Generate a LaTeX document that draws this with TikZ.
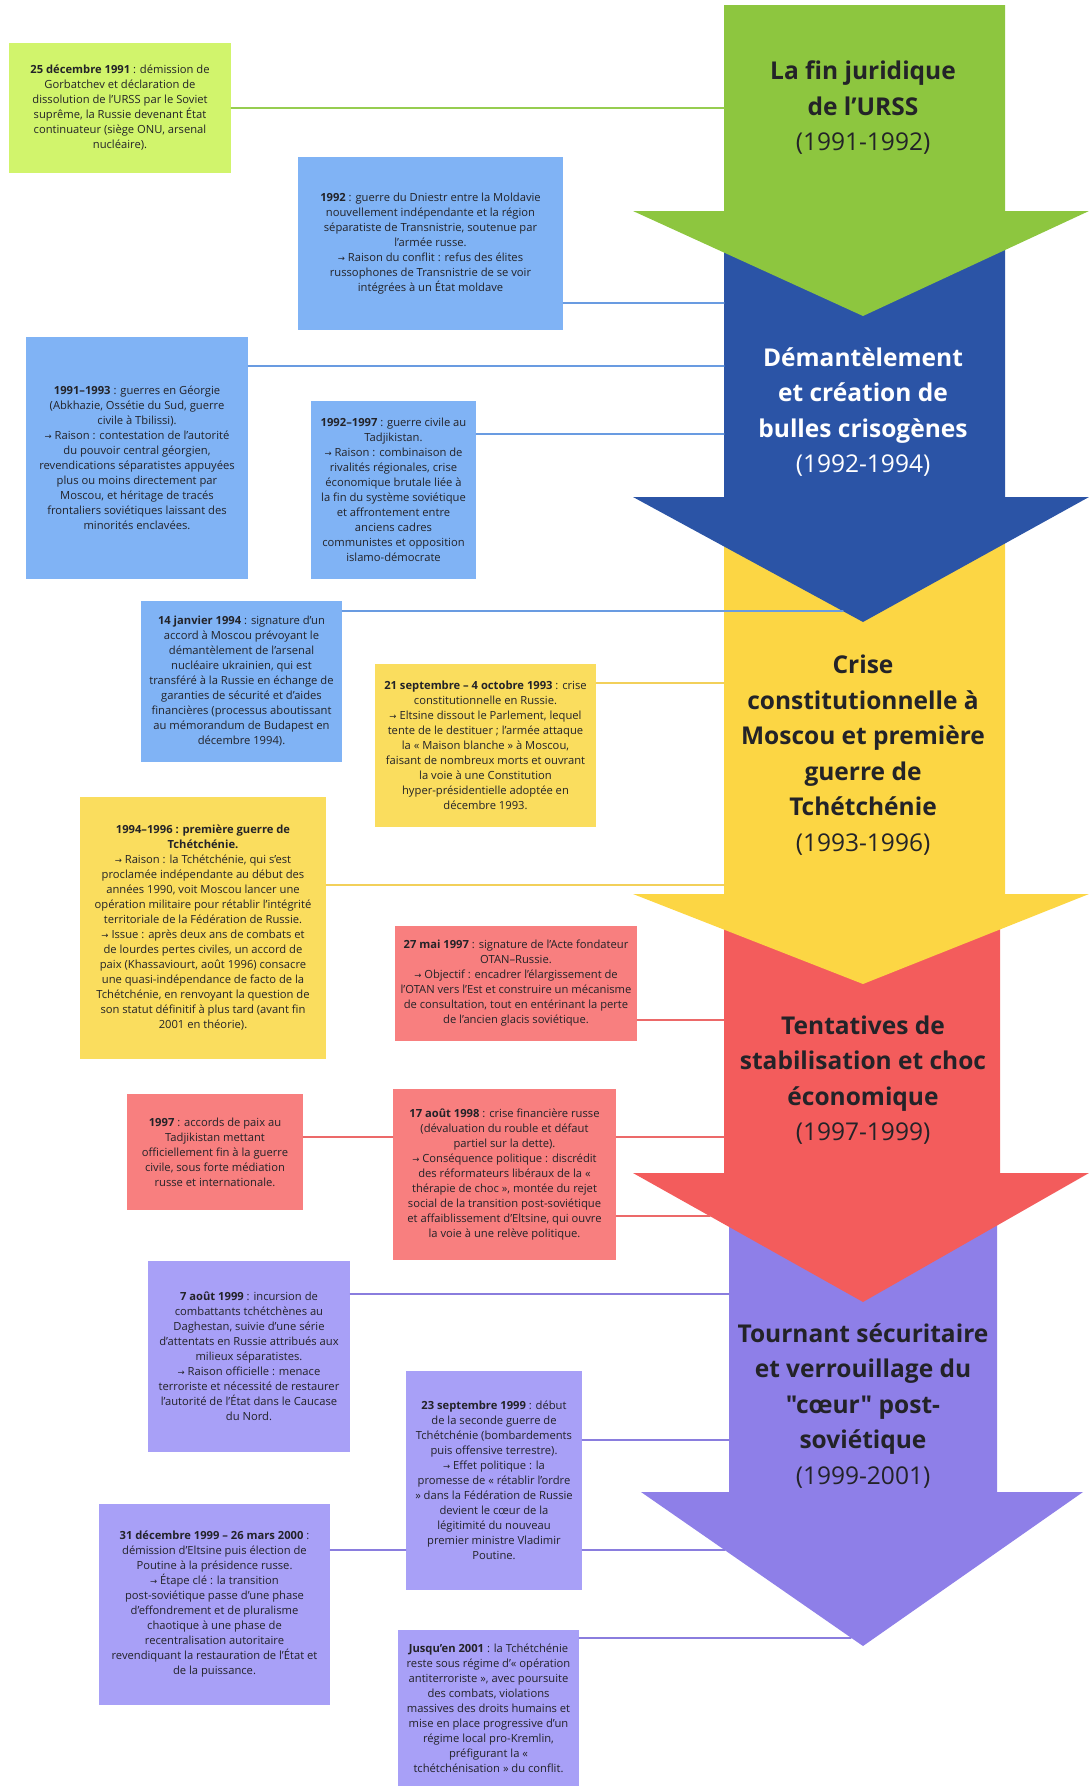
\documentclass[tikz,border=0pt]{standalone}
\usepackage{fontspec}
\setmainfont{Open Sans}[Ligatures=TeXOff]
\newfontfamily\flechefont{DejaVu Sans}
\newcommand\fl{{\flechefont\fontsize{8.5}{8.5}\selectfont →}}
\definecolor{fVert}{RGB}{141,198,63}
\definecolor{fBleu}{RGB}{43,84,166}
\definecolor{fJaune}{RGB}{252,214,68}
\definecolor{fRouge}{RGB}{243,92,92}
\definecolor{fViolet}{RGB}{142,127,232}
\definecolor{bVert}{RGB}{209,244,108}
\definecolor{bBleu}{RGB}{128,179,245}
\definecolor{bJaune}{RGB}{250,221,94}
\definecolor{bRouge}{RGB}{248,127,127}
\definecolor{bViolet}{RGB}{168,160,247}
\definecolor{lVert}{RGB}{150,205,80}
\definecolor{lBleu}{RGB}{105,155,225}
\definecolor{lJaune}{RGB}{242,208,90}
\definecolor{lRouge}{RGB}{236,105,105}
\definecolor{lViolet}{RGB}{138,125,222}
\definecolor{texte}{RGB}{35,35,40}
\begin{document}
\begin{tikzpicture}[x=1pt,y=-1pt,line join=round,line cap=round]
\tikzset{every node/.style={align=center,text=texte,inner sep=0pt,font=\fontsize{11.2}{15}\selectfont},
  boite/.style n args={3}{fill=#1,minimum width=#2,minimum height=#3},
  titre/.style={font=\fontsize{24.5}{35.5}\selectfont\bfseries},
  lien/.style={draw=#1,line width=1.2pt}}
\useasboundingbox (0,0) rectangle (1089,1786);
\foreach \col/\haut/\aile/\pointe/\g/\d/\ag/\ad in {fViolet/1173/1492/1646/729/997/641/1083,
  fRouge/894/1173/1302/724/1000/633/1089, fJaune/497/894/984/724/1005/633/1089,
  fBleu/211/497/622/724/1005/633/1089, fVert/5/211/316/724/1005/633/1089}
  \fill[\col] (\g,\haut) -- (\g,\aile) -- (\ag,\aile) -- (863,\pointe) -- (\ad,\aile) -- (\d,\aile) -- (\d,\haut) -- cycle;
\node[titre] (t1) at (863,108) {La fin juridique\\ de l’URSS\\ {\mdseries (1991-1992)}};
\node[titre,text=white] (t2) at (863,412) {Démantèlement\\ et création de\\ bulles crisogènes\\ {\mdseries (1992-1994)}};
\node[titre] (t3) at (863,755) {Crise\\ constitutionnelle à\\ Moscou et première\\ guerre de\\ Tchétchénie\\ {\mdseries (1993-1996)}};
\node[titre] (t4) at (863,1080) {Tentatives de\\ stabilisation et choc\\ économique\\ {\mdseries (1997-1999)}};
\node[titre] (t5) at (863,1406) {Tournant sécuritaire\\ et verrouillage du\\ "cœur" post-\\ soviétique\\ {\mdseries (1999-2001)}};
\node[boite={bVert}{222}{130}] (b1) at (120,108) {\textbf{25 décembre 1991} : démission de\\ Gorbatchev et déclaration de\\ dissolution de l’URSS par le Soviet\\ suprême, la Russie devenant État\\ continuateur (siège ONU, arsenal\\ nucléaire).};
\node[boite={bBleu}{265}{173}] (b2) at (430.5,243.5) {\textbf{1992} : guerre du Dniestr entre la Moldavie\\ nouvellement indépendante et la région\\ séparatiste de Transnistrie, soutenue par\\ l’armée russe.\\ \fl\ Raison du conflit : refus des élites\\ russophones de Transnistrie de se voir\\ intégrées à un État moldave};
\node[boite={bBleu}{222}{242}] (b3) at (137,458) {\textbf{1991–1993} : guerres en Géorgie\\ (Abkhazie, Ossétie du Sud, guerre\\ civile à Tbilissi).\\ \fl\ Raison : contestation de l’autorité\\ du pouvoir central géorgien,\\ revendications séparatistes appuyées\\ plus ou moins directement par\\ Moscou, et héritage de tracés\\ frontaliers soviétiques laissant des\\ minorités enclavées.};
\node[boite={bBleu}{165}{178}] (b4) at (393.5,490) {\textbf{1992–1997} : guerre civile au\\ Tadjikistan.\\ \fl\ Raison : combinaison de\\ rivalités régionales, crise\\ économique brutale liée à\\ la fin du système soviétique\\ et affrontement entre\\ anciens cadres\\ communistes et opposition\\ islamo-démocrate};
\node[boite={bBleu}{201}{161}] (b5) at (241.5,681.5) {\textbf{14 janvier 1994} : signature d’un\\ accord à Moscou prévoyant le\\ démantèlement de l’arsenal\\ nucléaire ukrainien, qui est\\ transféré à la Russie en échange de\\ garanties de sécurité et d’aides\\ financières (processus aboutissant\\ au mémorandum de Budapest en\\ décembre 1994).};
\node[boite={bJaune}{221}{163}] (b6) at (485.5,745.5) {\textbf{21 septembre – 4 octobre 1993} : crise\\ constitutionnelle en Russie.\\ \fl\ Eltsine dissout le Parlement, lequel\\ tente de le destituer ; l’armée attaque\\ la « Maison blanche » à Moscou,\\ faisant de nombreux morts et ouvrant\\ la voie à une Constitution\\ hyper-présidentielle adoptée en\\ décembre 1993.};
\node[boite={bJaune}{246}{262}] (b7) at (203,928) {\textbf{1994–1996 : première guerre de}\\ \textbf{Tchétchénie.}\\ \fl\ Raison : la Tchétchénie, qui s’est\\ proclamée indépendante au début des\\ années 1990, voit Moscou lancer une\\ opération militaire pour rétablir l’intégrité\\ territoriale de la Fédération de Russie.\\ \fl\ Issue : après deux ans de combats et\\ de lourdes pertes civiles, un accord de\\ paix (Khassaviourt, août 1996) consacre\\ une quasi-indépendance de facto de la\\ Tchétchénie, en renvoyant la question de\\ son statut définitif à plus tard (avant fin\\ 2001 en théorie).};
\node[boite={bRouge}{242}{115}] (b8) at (516,983.5) {\textbf{27 mai 1997} : signature de l’Acte fondateur\\ OTAN–Russie.\\ \fl\ Objectif : encadrer l’élargissement de\\ l’OTAN vers l’Est et construire un mécanisme\\ de consultation, tout en entérinant la perte\\ de l’ancien glacis soviétique.};
\node[boite={bRouge}{176}{116}] (b9) at (215,1152) {\textbf{1997} : accords de paix au\\ Tadjikistan mettant\\ officiellement fin à la guerre\\ civile, sous forte médiation\\ russe et internationale.};
\node[boite={bRouge}{223}{171}] (b10) at (504.5,1174.5) {\textbf{17 août 1998} : crise financière russe\\ (dévaluation du rouble et défaut\\ partiel sur la dette).\\ \fl\ Conséquence politique : discrédit\\ des réformateurs libéraux de la «\\ thérapie de choc », montée du rejet\\ social de la transition post-soviétique\\ et affaiblissement d’Eltsine, qui ouvre\\ la voie à une relève politique.};
\node[boite={bViolet}{202}{191}] (b11) at (249,1356.5) {\textbf{7 août 1999} : incursion de\\ combattants tchétchènes au\\ Daghestan, suivie d’une série\\ d’attentats en Russie attribués aux\\ milieux séparatistes.\\ \fl\ Raison officielle : menace\\ terroriste et nécessité de restaurer\\ l’autorité de l’État dans le Caucase\\ du Nord.};
\node[boite={bViolet}{176}{219}] (b12) at (494,1480.5) {\textbf{23 septembre 1999} : début\\ de la seconde guerre de\\ Tchétchénie (bombardements\\ puis offensive terrestre).\\ \fl\ Effet politique : la\\ promesse de « rétablir l’ordre\\ » dans la Fédération de Russie\\ devient le cœur de la\\ légitimité du nouveau\\ premier ministre Vladimir\\ Poutine.};
\node[boite={bViolet}{231}{201}] (b13) at (214.5,1604.5) {\textbf{31 décembre 1999 – 26 mars 2000} :\\ démission d’Eltsine puis élection de\\ Poutine à la présidence russe.\\ \fl\ Étape clé : la transition\\ post-soviétique passe d’une phase\\ d’effondrement et de pluralisme\\ chaotique à une phase de\\ recentralisation autoritaire\\ revendiquant la restauration de l’État et\\ de la puissance.};
\node[boite={bViolet}{181}{156}] (b14) at (488.5,1708) {\textbf{Jusqu’en 2001} : la Tchétchénie\\ reste sous régime d’« opération\\ antiterroriste », avec poursuite\\ des combats, violations\\ massives des droits humains et\\ mise en place progressive d’un\\ régime local pro-Kremlin,\\ préfigurant la «\\ tchétchénisation » du conflit.};
\coordinate (c1) at (724,108);
\coordinate (c2) at (724,303);
\coordinate (c3) at (724,366);
\coordinate (c4) at (724,434);
\coordinate (c5) at (843,611);
\coordinate (c6) at (724,683);
\coordinate (c7) at (724,885);
\coordinate (c8) at (724,1020);
\coordinate (c9) at (724,1137);
\coordinate (c10) at (710,1216);
\coordinate (c11) at (729,1294);
\coordinate (c12) at (729,1440);
\coordinate (c13) at (725,1550);
\coordinate (c14) at (851,1638);
\draw[lien=lVert] (c1 -| b1.east) -- (c1);
\draw[lien=lBleu] (c2 -| b2.east) -- (c2);
\draw[lien=lBleu] (c3 -| b3.east) -- (c3);
\draw[lien=lBleu] (c4 -| b4.east) -- (c4);
\draw[lien=lBleu] (c5 -| b5.east) -- (c5);
\draw[lien=lJaune] (c6 -| b6.east) -- (c6);
\draw[lien=lJaune] (c7 -| b7.east) -- (c7);
\draw[lien=lRouge] (c8 -| b8.east) -- (c8);
\draw[lien=lRouge] (c9 -| b9.east) -- (c9 -| b10.west);
\draw[lien=lRouge] (c9 -| b10.east) -- (c9);
\draw[lien=lRouge] (c10 -| b10.east) -- (c10);
\draw[lien=lViolet] (c11 -| b11.east) -- (c11);
\draw[lien=lViolet] (c12 -| b12.east) -- (c12);
\draw[lien=lViolet] (c13 -| b13.east) -- (c13 -| b12.west);
\draw[lien=lViolet] (c13 -| b12.east) -- (c13);
\draw[lien=lViolet] (c14 -| b14.east) -- (c14);
\end{tikzpicture}
\end{document}
